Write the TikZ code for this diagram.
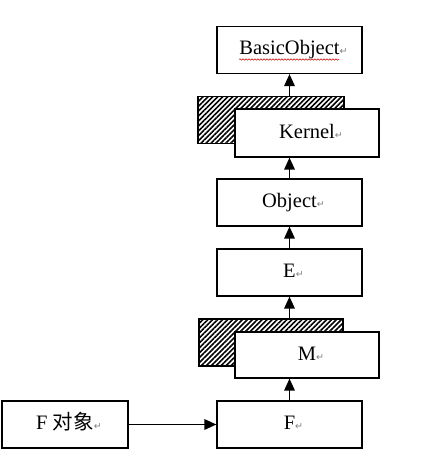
\documentclass[tikz,border=0pt]{standalone}
\usepackage{fontspec}
\setmainfont{Liberation Serif}
\newfontfamily\cjk{Noto Sans CJK SC}
\newfontfamily\symf{DejaVu Sans}
\usetikzlibrary{arrows.meta,patterns.meta,decorations.pathmorphing}
\newcommand{\pmark}{\rlap{\textcolor{gray}{\symf\fontsize{9.5}{9.5}\selectfont ↵}}}
\tikzset{
  clsbox/.style={draw, line width=1.2pt, fill=white, minimum width=145pt, minimum height=47pt,
    inner sep=0pt, text height=14pt, text depth=4pt, font=\fontsize{20.5}{24}\selectfont},
  hatchbox/.style={draw, line width=1.2pt, minimum width=146pt, minimum height=47pt, inner sep=0pt,
    pattern={Lines[angle=45,distance=3.5pt,line width=1.6pt]}},
  arr/.style={line width=1.7pt, -{Triangle[length=12pt,width=10.5pt]}},
}
\begin{document}
\begin{tikzpicture}[x=1pt,y=-1pt]
\useasboundingbox (0,0) rectangle (428,468);
% nodes
\node[clsbox] (bo) at (289.5,50) {BasicObject\pmark};
\node[hatchbox] (kh) at (271,120) {};
\node[clsbox, minimum width=144pt, minimum height=48pt] (kn) at (307,133) {Kernel\pmark};
\node[clsbox] (ob) at (289.5,202.5) {Object\pmark};
\node[clsbox] (e) at (289.5,272.5) {E\pmark};
\node[hatchbox, minimum width=144pt] (mh) at (271,342.5) {};
\node[clsbox, minimum width=144pt, minimum height=46pt] (m) at (307,355) {M\pmark};
\node[clsbox] (f) at (289.5,424.5) {F\pmark};
\node[clsbox, minimum width=126pt] (fo) at (65,424.5) {F {\cjk 对象}\pmark};
% spell-check squiggle
\draw[red!80!black, line width=0.5pt, decorate, decoration={snake, amplitude=0.7pt, segment length=3pt}] (239,59.5) -- (339,59.5);
% connectors
\draw[arr] (bo.south |- kh.north) -- (bo.south);
\draw[arr] (ob.north) -- (ob.north |- kn.south);
\draw[arr] (e.north) -- (ob.south);
\draw[arr] (e.south |- mh.north) -- (e.south);
\draw[arr] (f.north) -- (f.north |- m.south);
\draw[arr] (fo.east) -- (f.west);
\end{tikzpicture}
\end{document}
